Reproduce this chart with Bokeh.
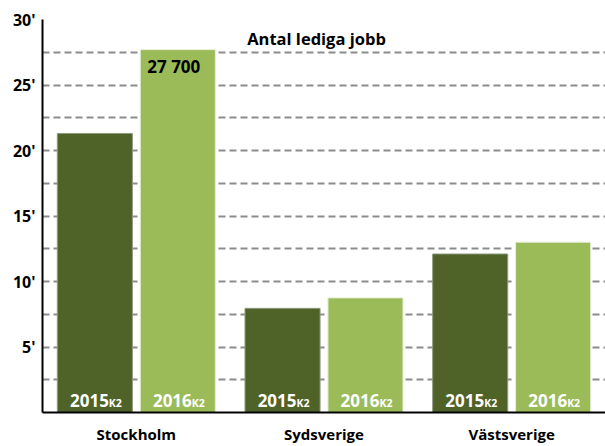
from bokeh.plotting import figure
from bokeh.models import ColumnDataSource, FactorRange, FixedTicker, Label
from bokeh.transform import dodge
from bokeh.core.properties import value
from bokeh.embed import file_html
from bokeh.resources import INLINE

regions = ["Stockholm", "Sydsverige", "Västsverige"]
v2015 = [21.3, 7.95, 12.1]
v2016 = [27.7, 8.75, 13.0]
year_a = "2015"
year_b = "2016"
sub = "K2"
highlight = "27 700"
title_text = "Antal lediga jobb"
ytick_vals = [5, 10, 15, 20, 25, 30]
grid_vals = [2.5, 5, 7.5, 10, 12.5, 15, 17.5, 20, 22.5, 25, 27.5, 30]

FONT = "Open Sans"
dark = "#4f6228"
light = "#9bbb59"

src = ColumnDataSource(dict(
    region=regions, v2015=v2015, v2016=v2016,
    ya=[year_a] * 3, yb=[year_b] * 3, sub=[sub] * 3,
    zero=[0] * 3,
))

p = figure(width=605, height=446, x_range=FactorRange(factors=regions, range_padding=0),
           y_range=(0, 30), output_backend="svg", toolbar_location=None,
           min_border_left=42, min_border_right=0, min_border_top=19, min_border_bottom=32)
p.outline_line_color = None
p.background_fill_color = "white"

p.vbar(x=dodge("region", -0.221, range=p.x_range), top="v2015", width=0.4, source=src,
       fill_color=dark, line_color="#8f9a80", line_width=1)
p.vbar(x=dodge("region", 0.221, range=p.x_range), top="v2016", width=0.4, source=src,
       fill_color=light, line_color="#e6eed8", line_width=1)

for col, off in (("ya", -0.221), ("yb", 0.221)):
    p.text(x=dodge("region", off, range=p.x_range), y="zero", text=col, source=src,
           text_align="right", text_baseline="alphabetic", x_offset=14, y_offset=-12,
           text_color="white", text_font=value(FONT), text_font_style="bold",
           text_font_size="17px")
    p.text(x=dodge("region", off, range=p.x_range), y="zero", text="sub", source=src,
           text_align="left", text_baseline="alphabetic", x_offset=14, y_offset=-10,
           text_color="white", text_font=value(FONT), text_font_style="bold",
           text_font_size="10.5px")

hsrc = ColumnDataSource(dict(region=[regions[0]], v=[v2016[0]], t=[highlight]))
p.text(x=dodge("region", 0.221 - 0.2, range=p.x_range), y="v", text="t", source=hsrc,
       text_align="left", text_baseline="middle", x_offset=7, y_offset=17,
       text_color="black", text_font=value(FONT), text_font_style="bold",
       text_font_size="17px")

p.add_layout(Label(x=316 - 42, y=(414 - 40), x_units="screen", y_units="screen",
                   text=title_text, text_align="center", text_baseline="middle",
                   text_font=FONT, text_font_style="bold", text_font_size="16.5px",
                   text_color="black"))

p.xgrid.grid_line_color = None
p.ygrid.ticker = FixedTicker(ticks=grid_vals)
p.ygrid.grid_line_color = "#8c8c8c"
p.ygrid.grid_line_width = 2
p.ygrid.grid_line_dash = "7 4"

p.yaxis.ticker = FixedTicker(ticks=ytick_vals)
p.yaxis.major_label_overrides = {v: f"{v}'" for v in ytick_vals}
p.yaxis.axis_line_color = "black"
p.yaxis.axis_line_width = 2
p.yaxis.major_tick_line_color = None
p.yaxis.minor_tick_line_color = None
p.yaxis.major_tick_out = 0
p.yaxis.major_tick_in = 0
p.yaxis.major_label_standoff = 7
p.yaxis.major_label_text_font = FONT
p.yaxis.major_label_text_font_style = "bold"
p.yaxis.major_label_text_font_size = "16px"
p.yaxis.major_label_text_color = "black"

p.xaxis.axis_line_color = "black"
p.xaxis.axis_line_width = 2
p.xaxis.major_tick_line_color = None
p.xaxis.minor_tick_line_color = None
p.xaxis.major_tick_out = 0
p.xaxis.major_tick_in = 0
p.xaxis.major_label_standoff = 11
p.xaxis.major_label_text_font = FONT
p.xaxis.major_label_text_font_style = "bold"
p.xaxis.major_label_text_font_size = "15px"
p.xaxis.major_label_text_color = "black"

open("out.html", "w").write(file_html(p, INLINE))
